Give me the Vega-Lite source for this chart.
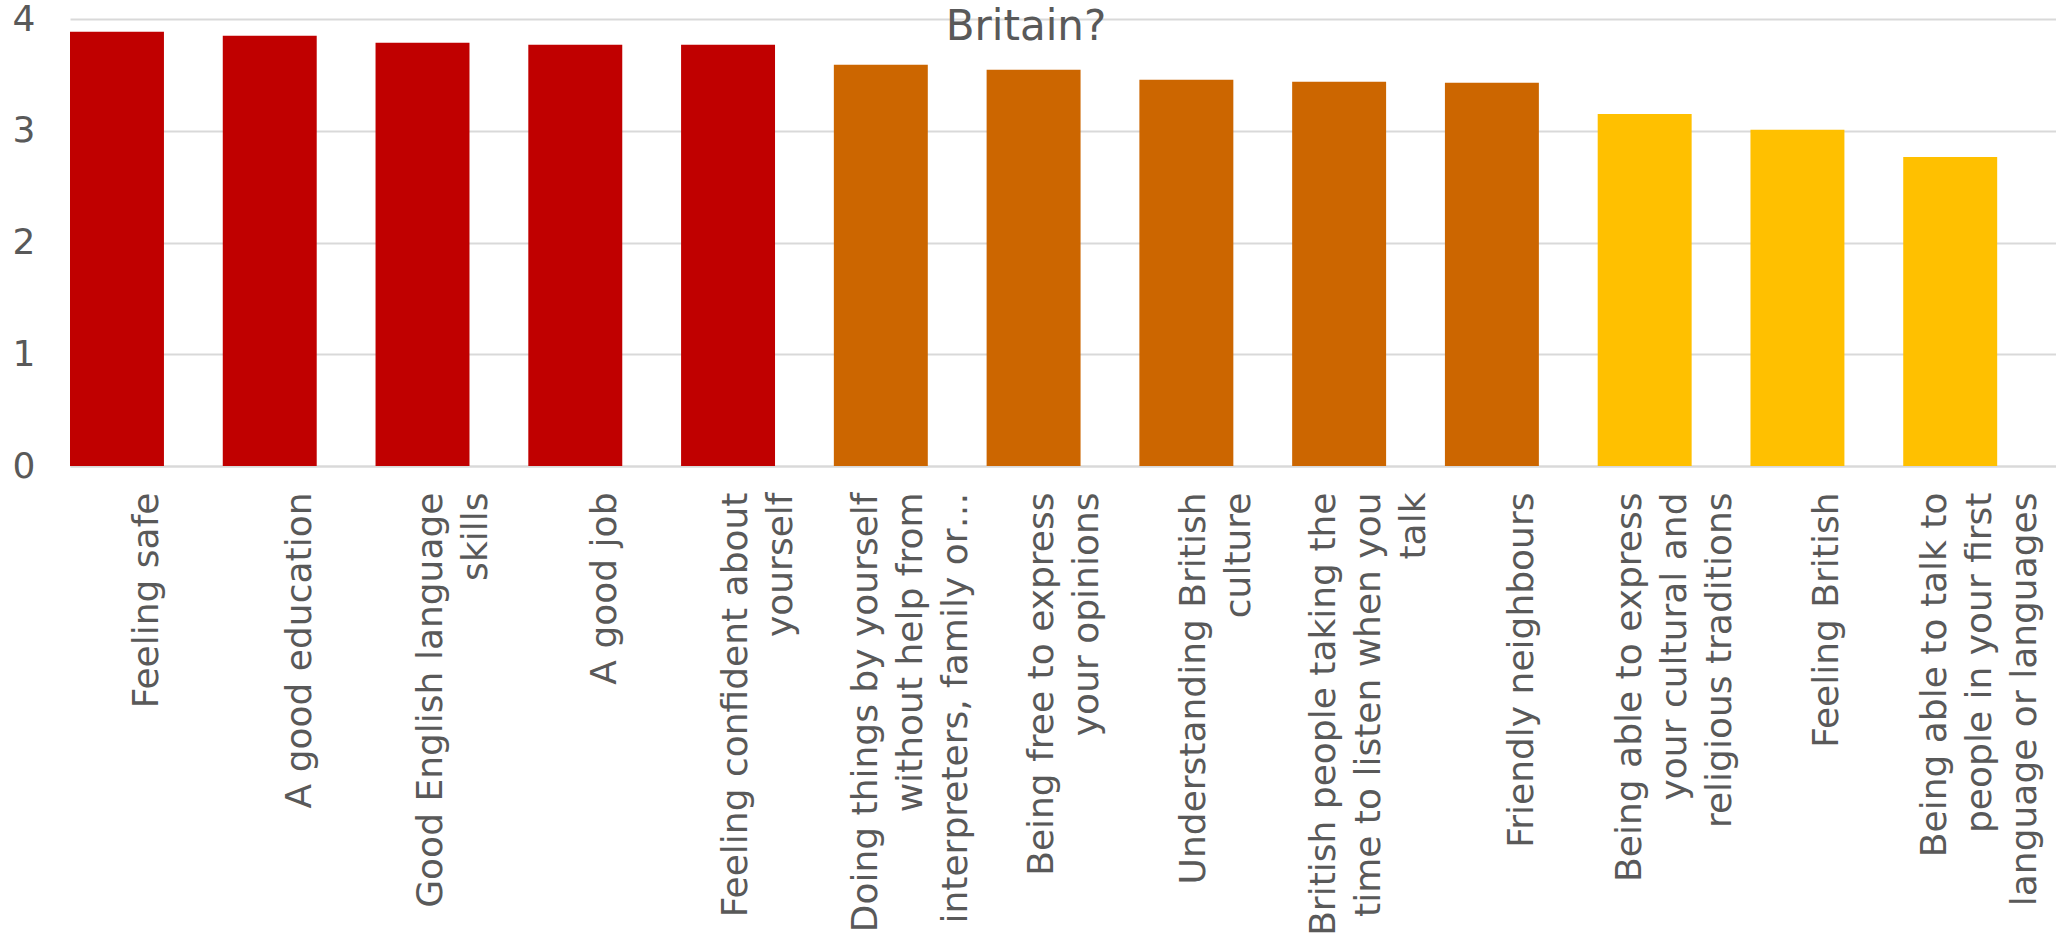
{
  "$schema": "https://vega.github.io/schema/vega-lite/v6.json",
  "autosize": {"type": "none"},
  "padding": {"left": 70, "top": 19, "right": 0, "bottom": 470},
  "width": 1986,
  "height": 447,
  "background": "white",
  "title": {
    "text": "Britain?",
    "frame": "group",
    "anchor": "middle",
    "dx": -37,
    "offset": -81,
    "baseline": "alphabetic",
    "font": "DejaVu Sans",
    "fontSize": 42,
    "fontWeight": "normal",
    "color": "#595959"
  },
  "data": {
    "values": [
      {"item": "Feeling safe", "score": 3.885, "tier": "top"},
      {"item": "A good education", "score": 3.85, "tier": "top"},
      {"item": "Good English language|skills", "score": 3.787, "tier": "top"},
      {"item": "A good job", "score": 3.769, "tier": "top"},
      {"item": "Feeling confident about|yourself", "score": 3.769, "tier": "top"},
      {"item": "Doing things by yourself|without help from|interpreters, family or…", "score": 3.59, "tier": "middle"},
      {"item": "Being free to express|your opinions", "score": 3.545, "tier": "middle"},
      {"item": "Understanding British|culture", "score": 3.456, "tier": "middle"},
      {"item": "British people taking the|time to listen when you|talk", "score": 3.438, "tier": "middle"},
      {"item": "Friendly neighbours", "score": 3.429, "tier": "middle"},
      {"item": "Being able to express|your cultural and|religious traditions", "score": 3.151, "tier": "bottom"},
      {"item": "Feeling British", "score": 3.008, "tier": "bottom"},
      {"item": "Being able to talk to|people in your first|language or languages", "score": 2.766, "tier": "bottom"}
    ]
  },
  "mark": {"type": "bar"},
  "encoding": {
    "x": {
      "field": "item",
      "type": "nominal",
      "sort": null,
      "scale": {"paddingInner": 0.385, "paddingOuter": 0.1925, "align": 0},
      "axis": {
        "title": null,
        "labelAngle": -90,
        "labelAlign": "right",
        "labelBaseline": "middle",
        "labelExpr": "split(datum.label, '|')",
        "labelLineHeight": 45,
        "labelOffset": {
          "condition": [
            {"test": "length(split(datum.value, '|')) == 3", "value": -15},
            {"test": "length(split(datum.value, '|')) == 2", "value": 8}
          ],
          "value": 30
        },
        "labelPadding": 26,
        "labelFont": "DejaVu Sans",
        "labelFontSize": 36,
        "labelColor": "#595959",
        "labelLimit": 0,
        "labelOverlap": false,
        "ticks": false,
        "tickSize": 0,
        "domain": true,
        "domainColor": "#D9D9D9",
        "domainWidth": 2,
        "grid": false
      }
    },
    "y": {
      "field": "score",
      "type": "quantitative",
      "scale": {"domain": [0, 4], "nice": false},
      "axis": {
        "title": null,
        "values": [0, 1, 2, 3, 4],
        "labelFont": "DejaVu Sans",
        "labelFontSize": 36,
        "labelColor": "#595959",
        "labelPadding": 35,
        "ticks": false,
        "tickSize": 0,
        "domain": false,
        "grid": true,
        "gridColor": "#D9D9D9",
        "gridWidth": 2
      }
    },
    "color": {
      "field": "tier",
      "type": "nominal",
      "scale": {"domain": ["top", "middle", "bottom"], "range": ["#C00000", "#CC6600", "#FFC000"]},
      "legend": null
    }
  },
  "config": {"view": {"stroke": null}}
}
